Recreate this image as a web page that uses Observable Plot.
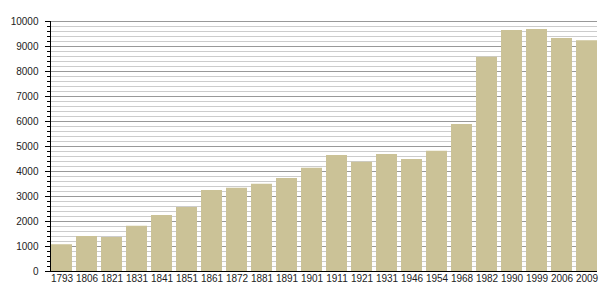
<!DOCTYPE html>
<html>
<head>
<meta charset="utf-8">
<script src="https://cdn.jsdelivr.net/npm/d3@7"></script>
<script src="https://cdn.jsdelivr.net/npm/@observablehq/plot@0.6"></script>
<style>
  html, body { margin: 0; padding: 0; background: #fff; }
  #chart svg { display: block; }
</style>
</head>
<body>
<div id="chart"></div>
<script>
const years = ["1793","1806","1821","1831","1841","1851","1861","1872","1881","1891","1901","1911","1921","1931","1946","1954","1968","1982","1990","1999","2006","2009"];
const population = [1070,1400,1360,1810,2240,2560,3240,3330,3490,3720,4130,4640,4370,4680,4480,4810,5880,8570,9640,9680,9320,9230];
const majorTicks = [0,1000,2000,3000,4000,5000,6000,7000,8000,9000,10000];
const minorTicks = d3.range(0, 10001, 200).filter(v => v % 1000 !== 0);

const data = years.map((y, i) => ({year: y, value: population[i]}));

const chart = Plot.plot({
  width: 605,
  height: 300,
  marginLeft: 50,
  marginRight: 8,
  marginTop: 21,
  marginBottom: 29,
  style: {fontFamily: "'Liberation Sans', Arial, sans-serif", fontSize: "10px", color: "#222", background: "#fff"},
  x: {domain: years, range: [50, 597], paddingInner: 0.17, paddingOuter: 0.02, label: null},
  y: {domain: [0, 10000], label: null},
  marks: [
    Plot.ruleY(minorTicks, {stroke: "#cccccc", strokeWidth: 1}),
    Plot.ruleY(majorTicks, {stroke: "#999999", strokeWidth: 1}),
    Plot.barY(data, {x: "year", y: "value", fill: "#cbc297"}),
    Plot.axisY({ticks: minorTicks, tickSize: 3, text: null, stroke: "#000"}),
    Plot.axisY({ticks: majorTicks, tickSize: 5, tickPadding: 7, tickFormat: d => String(d), stroke: "#000", fill: "#222"}),
    Plot.axisX({tickSize: 0, tickPadding: 3, fill: "#222"}),
    Plot.frame({anchor: "left", stroke: "#000"}),
    Plot.ruleY([0], {stroke: "#000", strokeWidth: 1.2})
  ]
});
document.getElementById("chart").appendChild(chart);
</script>
</body>
</html>
